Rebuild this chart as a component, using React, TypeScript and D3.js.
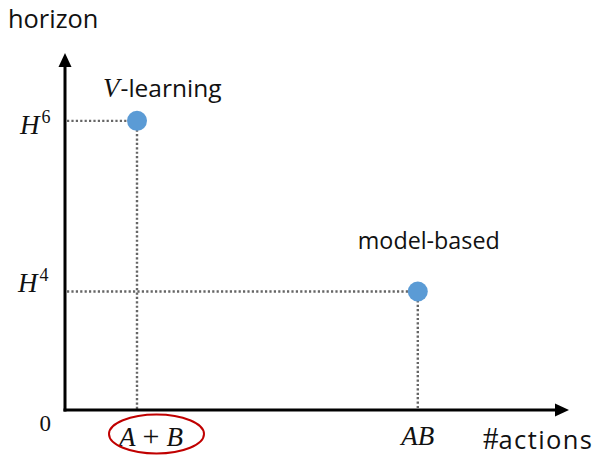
import React from "react";
import * as d3 from "d3";

const methods = ["V-learning", "model-based"];
const actionValues = [1, 4.9];
const horizonValues = [8.1, 3.32];
const xTickLabels = ["A+B", "AB"];
const yTickLabels = ["H^6", "H^4"];

const W = 597;
const H = 456;
const x = d3.scaleLinear().domain([0, 7]).range([65, 569]);
const y = d3.scaleLinear().domain([0, 10]).range([410, 53]);

const SANS = "'Open Sans', 'DejaVu Sans', sans-serif";
const SERIF = "'Liberation Serif', 'DejaVu Serif', serif";

function Power({ label, xPos, yPos }: { label: string; xPos: number; yPos: number }) {
  const [base, exp] = label.split("^");
  return (
    <text x={xPos} y={yPos} fontFamily={SERIF} fontSize={27} fill="#111">
      <tspan fontStyle="italic">{base}</tspan>
      <tspan fontSize={18} dx={2} dy={-11}>{exp}</tspan>
    </text>
  );
}

export default function App() {
  const x0 = x(0);
  const y0 = y(0);
  const [aLbl, bLbl] = xTickLabels[0].split("+");
  const [vPart, restPart] = [methods[0].slice(0, 1), methods[0].slice(1)];
  return (
    <svg width={W} height={H} style={{ position: "absolute", left: 0, top: 0 }}>
      <rect width={W} height={H} fill="#fff" />
      {/* guide lines */}
      {methods.map((m, i) => (
        <g key={m}>
          <line x1={x0 + 2} x2={x(actionValues[i])} y1={y(horizonValues[i])} y2={y(horizonValues[i])}
            stroke="#666" strokeWidth={2.4} strokeDasharray="2.2,2.2" />
          <line x1={x(actionValues[i])} x2={x(actionValues[i])} y1={y(horizonValues[i])} y2={y0}
            stroke="#666" strokeWidth={2.4} strokeDasharray="2.2,2.2" />
        </g>
      ))}
      {/* axes */}
      <line x1={x0} x2={x0} y1={y0 + 1.5} y2={y(10) + 12} stroke="#000" strokeWidth={3} />
      <path d={`M${x0 - 6.5},${y(10) + 14} L${x0},${y(10)} L${x0 + 6.5},${y(10) + 14} Z`} fill="#000" />
      <line x1={x0 - 1.5} x2={x(7) - 12} y1={y0} y2={y0} stroke="#000" strokeWidth={3} />
      <path d={`M${x(7) - 14},${y0 - 6.5} L${x(7)},${y0} L${x(7) - 14},${y0 + 6.5} Z`} fill="#000" />
      {/* points */}
      {methods.map((m, i) => (
        <circle key={m} cx={x(actionValues[i])} cy={y(horizonValues[i])} r={10} fill="#5B9BD5" />
      ))}
      {/* point labels */}
      <text x={x(actionValues[0]) - 34} y={y(horizonValues[0]) - 24} fontSize={24.5} fill="#111">
        <tspan fontFamily={SERIF} fontStyle="italic" fontSize={27}>{vPart}</tspan>
        <tspan fontFamily={SANS} dx={1}>{restPart}</tspan>
      </text>
      <text x={x(actionValues[1]) - 60} y={y(horizonValues[1]) - 42} fontSize={23.3} fontFamily={SANS} fill="#111">
        {methods[1]}
      </text>
      {/* y tick labels */}
      <Power label={yTickLabels[0]} xPos={20} yPos={y(horizonValues[0]) + 13} />
      <Power label={yTickLabels[1]} xPos={18} yPos={y(horizonValues[1]) + 1} />
      <text x={51} y={y0 + 21} fontFamily={SERIF} fontSize={23} textAnchor="end" fill="#111">0</text>
      {/* x tick labels */}
      <text x={x(actionValues[0]) - 18} y={y0 + 36} fontFamily={SERIF} fontSize={27} fill="#111">
        <tspan fontStyle="italic">{aLbl}</tspan>
        <tspan dx={7} fontSize={30}>+</tspan>
        <tspan dx={7} fontStyle="italic">{bLbl}</tspan>
      </text>
      <ellipse cx={x(actionValues[0]) + 19.5} cy={y0 + 24} rx={47.5} ry={19.5} fill="none" stroke="#C00000" strokeWidth={2} />
      <text x={x(actionValues[1])} y={y0 + 35} fontFamily={SERIF} fontSize={27} fontStyle="italic" textAnchor="middle" fill="#111">
        {xTickLabels[1]}
      </text>
      {/* axis titles */}
      <text x={483} y={y0 + 39} fill="#111">
        <tspan fontFamily={SERIF} fontSize={31}>#</tspan>
        <tspan fontFamily={SANS} fontSize={25.5} letterSpacing={1.4}>actions</tspan>
      </text>
      <text x={8} y={28} fontFamily={SANS} fontSize={25.4} fill="#111">horizon</text>
    </svg>
  );
}
